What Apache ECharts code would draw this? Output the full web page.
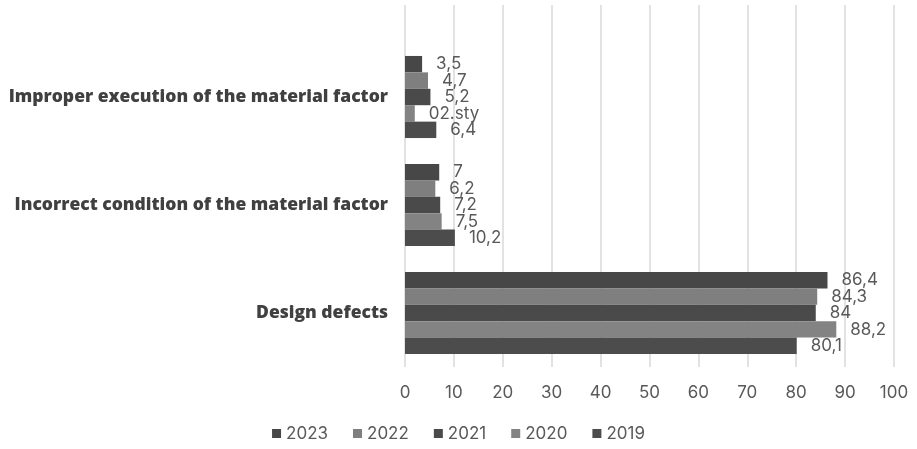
<!DOCTYPE html>
<html>
<head>
<meta charset="utf-8">
<script src="https://cdn.jsdelivr.net/npm/echarts@6/dist/echarts.min.js"></script>
<style>
html,body{margin:0;padding:0;background:#fff;}
#chart{width:917px;height:449px;}
</style>
</head>
<body>
<div id="chart"></div>
<script>
// Categories, bottom to top on the y axis
const categories = ['Design defects', 'Incorrect condition of the material factor', 'Improper execution of the material factor'];
const years = ['2023', '2022', '2021', '2020', '2019'];

// Values per year, in category order
const v2023 = [86.4, 7, 3.5];
const v2022 = [84.3, 6.2, 4.7];
const v2021 = [84, 7.2, 5.2];
const v2020 = [88.2, 7.5, 2];
const v2019 = [80.1, 10.2, 6.4];

// Printed label text where it differs from the value
const labelOverrides = { '2020|Improper execution of the material factor': '02.sty' };

const xTicks = { min: 0, max: 100, interval: 10 };

const seriesValues = { '2023': v2023, '2022': v2022, '2021': v2021, '2020': v2020, '2019': v2019 };
const colors = { '2023': '#474747', '2022': '#7f7f7f', '2021': '#4a4a4a', '2020': '#838383', '2019': '#4c4c4c' };

const fontFamily = 'Inter, "Open Sans", sans-serif';
const catFont = '"Open Sans", Inter, sans-serif';

const series = years.map(y => ({
  name: y,
  type: 'bar',
  xAxisIndex: 0,
  yAxisIndex: 0,
  barGap: '0%',
  barCategoryGap: '24%',
  itemStyle: { color: colors[y] },
  label: {
    show: true,
    position: 'right',
    distance: 14,
    color: '#595959',
    fontSize: 17,
    fontFamily: fontFamily,
    formatter: p => {
      const key = y + '|' + categories[p.dataIndex];
      if (labelOverrides[key]) return labelOverrides[key];
      return String(p.value).replace('.', ',');
    }
  },
  data: seriesValues[y]
}));

const chart = echarts.init(document.getElementById('chart'), null, { renderer: 'canvas' });
chart.setOption({
  animation: false,
  backgroundColor: '#ffffff',
  grid: [
    { left: 405, right: 23, top: 43, bottom: 82 },
    { left: 405, right: 23, top: 5, height: 38 }
  ],
  legend: {
    data: years,
    bottom: 2,
    left: 'center',
    itemWidth: 9,
    itemHeight: 9,
    itemGap: 25,
    icon: 'rect',
    textStyle: { color: '#595959', fontSize: 17, fontFamily: fontFamily }
  },
  xAxis: [
    {
      gridIndex: 0,
      type: 'value',
      min: xTicks.min, max: xTicks.max, interval: xTicks.interval,
      axisLine: { show: false },
      axisTick: { show: false },
      axisLabel: { color: '#595959', fontSize: 17, fontFamily: fontFamily, margin: 17 },
      splitLine: { lineStyle: { color: '#d9d9d9', width: 1.5 } }
    },
    {
      gridIndex: 1,
      type: 'value',
      min: xTicks.min, max: xTicks.max, interval: xTicks.interval,
      axisLine: { show: false },
      axisTick: { show: false },
      axisLabel: { show: false },
      splitLine: { lineStyle: { color: '#d9d9d9', width: 1.5 } }
    }
  ],
  yAxis: [
    {
      gridIndex: 0,
      type: 'category',
      data: categories,
      axisLine: { show: false },
      axisTick: { show: false },
      axisLabel: { color: '#404040', fontSize: 17.5, fontWeight: 800, fontFamily: catFont, margin: 17 }
    },
    {
      gridIndex: 1,
      type: 'category',
      data: [''],
      axisLine: { show: false },
      axisTick: { show: false },
      axisLabel: { show: false }
    }
  ],
  series: series
});
</script>
</body>
</html>
